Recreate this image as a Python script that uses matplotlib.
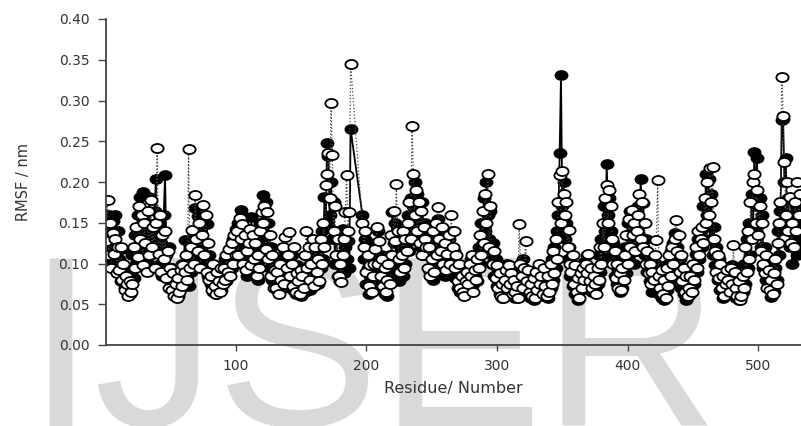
import numpy as np
import matplotlib
matplotlib.use('Agg')
import matplotlib.pyplot as plt
from matplotlib.path import Path
from matplotlib.transforms import Affine2D

# residue numbers: 1-188, then 197-532 (gap in the structure)
residues = list(range(1, 189)) + list(range(197, 533))

rmsf_black = [
    .145, .118, .160, .130, .105, .152, .125, .160, .098, .140,
    .105, .078, .118, .088, .070, .095, .066, .082, .062, .088,
    .110, .082, .135, .100, .160, .118, .182, .140, .188, .125,
    .105, .150, .120, .182, .098, .140, .115, .165, .204, .130,
    .150, .100, .125, .085, .160, .209, .110, .090, .120, .078,
    .095, .072, .085, .062, .078, .060, .090, .070, .100, .080,
    .129, .085, .110, .072, .100, .090, .130, .105, .168, .120,
    .158, .110, .140, .095, .125, .153, .105, .149, .085, .110,
    .075, .095, .065, .085, .062, .078, .070, .092, .068, .088,
    .082, .105, .078, .098, .088, .112, .095, .130, .100, .142,
    .120, .150, .105, .166, .125, .145, .098, .118, .085, .140,
    .110, .157, .120, .140, .090, .115, .080, .125, .150, .105,
    .184, .130, .175, .115, .150, .095, .120, .080, .100, .072,
    .085, .068, .095, .078, .105, .070, .088, .115, .082, .100,
    .092, .075, .110, .068, .085, .062, .098, .070, .080, .060,
    .075, .090, .065, .110, .080, .098, .068, .105, .075, .090,
    .085, .110, .075, .125, .095, .140, .105, .182, .150, .248,
    .232, .160, .200, .130, .175, .100, .140, .085, .110, .078,
    .100, .142, .088, .120, .105, .128, .095, .265,
    .160, .105, .130, .075, .095, .062, .085, .068, .110, .080,
    .125, .095, .140, .080, .110, .068, .090, .062, .075, .060,
    .080, .110, .095, .163, .125, .150, .090, .130, .078, .105,
    .120, .085, .140, .100, .125, .160, .115, .180, .145, .170,
    .200, .130, .185, .150, .165, .120, .175, .110, .150, .135,
    .110, .130, .090, .115, .080, .100, .125, .095, .155, .120,
    .135, .095, .120, .085, .110, .090, .130, .105, .140, .100,
    .115, .082, .100, .070, .090, .065, .080, .062, .075, .085,
    .070, .095, .080, .105, .072, .098, .085, .110, .078, .120,
    .100, .150, .125, .180, .140, .200, .160, .130, .165, .110,
    .125, .085, .105, .072, .092, .062, .080, .058, .070, .090,
    .075, .100, .068, .090, .060, .082, .070, .058, .085, .062,
    .068, .090, .075, .105, .065, .088, .072, .060, .080, .058,
    .070, .055, .078, .062, .090, .068, .098, .075, .060, .082,
    .062, .078, .058, .090, .070, .105, .080, .120, .095, .140,
    .160, .236, .331, .170, .200, .130, .150, .105, .120, .085,
    .100, .072, .090, .062, .080, .055, .075, .068, .092, .070,
    .102, .080, .110, .072, .095, .085, .065, .092, .070, .088,
    .075, .110, .090, .130, .105, .170, .140, .222, .160, .180,
    .140, .110, .125, .085, .105, .075, .092, .065, .082, .070,
    .095, .120, .088, .150, .110, .165, .125, .140, .100, .130,
    .115, .170, .135, .204, .150, .174, .110, .130, .090, .105,
    .078, .095, .065, .085, .070, .100, .080, .062, .075, .058,
    .070, .055, .085, .068, .100, .075, .115, .090, .125, .137,
    .100, .120, .082, .105, .070, .090, .062, .080, .055, .072,
    .090, .062, .080, .098, .075, .112, .090, .130, .105, .140,
    .120, .170, .145, .210, .160, .204, .130, .185, .110, .145,
    .098, .120, .080, .105, .068, .090, .058, .078, .065, .085,
    .070, .092, .075, .098, .065, .082, .058, .072, .055, .068,
    .080, .065, .100, .075, .130, .095, .150, .110, .185, .140,
    .237, .170, .230, .150, .180, .120, .160, .095, .120, .080,
    .100, .072, .085, .059, .078, .065, .095, .080, .140, .110,
    .165, .276, .277, .200, .230, .150, .180, .120, .160, .100,
    .140, .120, .170, .110, .150, .130,
]

rmsf_open = [
    .128, .178, .110, .150, .095, .138, .112, .130, .088, .120,
    .092, .120, .080, .100, .068, .085, .075, .060, .078, .065,
    .075, .120, .095, .145, .108, .170, .130, .160, .098, .150,
    .125, .090, .165, .110, .178, .120, .145, .095, .150, .242,
    .112, .160, .090, .135, .105, .140, .082, .115, .070, .095,
    .068, .088, .060, .075, .058, .082, .065, .092, .072, .098,
    .090, .110, .080, .241, .095, .120, .141, .100, .184, .130,
    .115, .150, .095, .135, .172, .110, .160, .090, .125, .080,
    .085, .068, .100, .072, .063, .090, .078, .065, .095, .075,
    .095, .080, .110, .090, .118, .085, .125, .100, .135, .110,
    .140, .110, .156, .130, .148, .100, .135, .092, .115, .125,
    .142, .098, .135, .105, .125, .085, .110, .095, .140, .163,
    .150, .170, .118, .163, .105, .135, .085, .110, .070, .092,
    .070, .090, .062, .100, .080, .120, .075, .132, .095, .110,
    .139, .085, .100, .072, .120, .065, .088, .078, .062, .092,
    .085, .070, .110, .140, .095, .120, .080, .100, .130, .072,
    .120, .090, .105, .078, .130, .100, .150, .120, .196, .210,
    .235, .180, .297, .233, .140, .170, .110, .130, .085, .100,
    .077, .110, .130, .163, .209, .140, .163, .345,
    .150, .120, .140, .090, .110, .072, .098, .065, .085, .100,
    .118, .145, .100, .128, .085, .105, .072, .095, .065, .080,
    .100, .075, .135, .110, .165, .128, .197, .140, .105, .090,
    .110, .140, .095, .130, .115, .150, .175, .130, .269, .210,
    .160, .190, .140, .175, .125, .165, .110, .145, .130, .120,
    .095, .120, .085, .105, .140, .090, .150, .110, .169, .130,
    .115, .145, .100, .125, .092, .112, .135, .100, .159, .120,
    .140, .095, .110, .078, .100, .070, .085, .065, .060, .078,
    .090, .075, .100, .085, .110, .065, .092, .080, .105, .095,
    .135, .110, .165, .125, .185, .150, .210, .120, .170, .100,
    .100, .115, .082, .098, .070, .088, .060, .075, .058, .080,
    .092, .070, .098, .075, .088, .062, .080, .065, .072, .058,
    .148, .100, .085, .070, .095, .127, .078, .092, .065, .075,
    .060, .082, .058, .090, .068, .100, .075, .085, .062, .095,
    .072, .060, .085, .065, .100, .075, .115, .088, .130, .105,
    .175, .208, .150, .214, .185, .160, .175, .120, .141, .100,
    .090, .110, .075, .098, .065, .082, .058, .088, .070, .095,
    .080, .100, .088, .112, .078, .095, .070, .085, .075, .062,
    .095, .080, .120, .100, .150, .120, .180, .196, .150, .190,
    .170, .130, .100, .115, .082, .100, .070, .088, .068, .095,
    .080, .110, .135, .100, .155, .120, .166, .135, .150, .115,
    .140, .160, .185, .130, .175, .120, .150, .100, .115, .088,
    .100, .075, .090, .080, .110, .129, .202, .085, .070, .092,
    .062, .080, .058, .095, .072, .110, .085, .120, .100, .130,
    .153, .115, .135, .090, .110, .078, .095, .065, .085, .060,
    .070, .085, .065, .100, .080, .120, .095, .140, .110, .130,
    .145, .125, .180, .150, .200, .160, .217, .175, .218, .130,
    .115, .090, .110, .082, .100, .070, .085, .060, .075, .092,
    .080, .065, .095, .075, .123, .090, .070, .060, .078, .055,
    .060, .085, .070, .120, .090, .140, .105, .175, .130, .200,
    .210, .150, .190, .135, .170, .115, .150, .100, .088, .110,
    .070, .092, .068, .080, .062, .088, .105, .075, .125, .150,
    .175, .329, .281, .225, .160, .200, .140, .182, .125, .150,
    .120, .175, .140, .200, .160, .185,
]

yticks = [0.00, 0.05, 0.10, 0.15, 0.20, 0.25, 0.30, 0.35, 0.40]
xticks = [100, 200, 300, 400, 500]

# flattened ellipse marker like the original
circ = Path.unit_circle()
ellipse = Path(Affine2D().scale(1.0, 0.74).transform(circ.vertices), circ.codes)

fig = plt.figure(figsize=(8.01, 4.26), dpi=100)
fig.text(26 / 801, 0 / 426, 'IJSER', fontsize=176, family='Liberation Sans',
         color='#d9d9d9', va='baseline', ha='left', zorder=0)

ax = fig.add_axes([106 / 801, 81 / 426, 695 / 801, 326 / 426], zorder=1)
ax.set_facecolor('none')

ax.plot(residues, rmsf_black, color='black', lw=1.3, marker=ellipse, ms=8.8,
        mfc='black', mec='black', mew=1.2)
ax.plot(residues, rmsf_open, color='#444444', lw=0.9, ls=':', marker=ellipse, ms=8.8,
        mfc='white', mec='black', mew=1.3)

ax.set_xlim(0.8, 532.7)
ax.set_ylim(0, 0.40)
ax.set_xticks(xticks)
ax.set_yticks(yticks)
ax.set_yticklabels(['%.2f' % v for v in yticks])
for s in ['top', 'right']:
    ax.spines[s].set_visible(False)
for s in ['left', 'bottom']:
    ax.spines[s].set_color('#444444')
    ax.spines[s].set_linewidth(1.3)
ax.tick_params(axis='y', direction='out', length=6, width=1, color='#444444',
               labelsize=10, labelcolor='#333333', pad=6)
ax.tick_params(axis='x', direction='out', length=4, width=1, color='#444444',
               labelsize=10, labelcolor='#333333', pad=6)
ax.set_xlabel('Residue/ Number', fontsize=11.5, color='#333333', labelpad=6)
ax.set_ylabel('RMSF / nm', fontsize=10.5, color='#333333', labelpad=20)

fig.savefig('out.png', dpi=100)
